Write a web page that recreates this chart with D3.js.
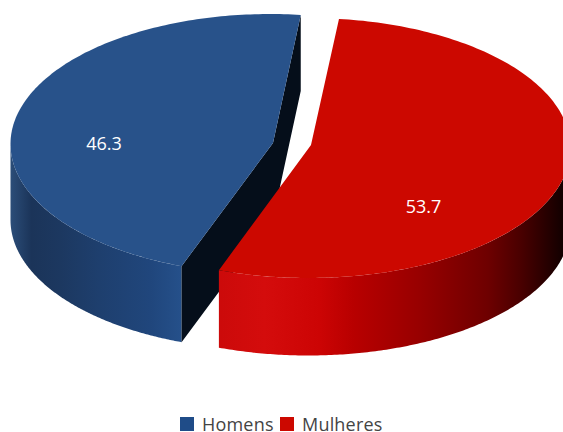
<!DOCTYPE html>
<html>
<head>
<meta charset="utf-8">
<script src="https://cdn.jsdelivr.net/npm/d3@7/dist/d3.min.js"></script>
<style>
html,body{margin:0;padding:0;background:#fff;overflow:hidden}
svg{display:block}
text{font-family:"Open Sans",sans-serif}
</style>
</head>
<body>
<svg id="c" width="563" height="432"></svg>
<script>
const categories = ["Homens", "Mulheres"];
const values = [46.3, 53.7];
const topColors = ["#28528a", "#cc0800"];
const swatchColors = ["#1f4c88", "#cc0800"];
const faceColor = "#050e1a";
const blueWallColors = ["#2b4d78", "#1b3459", "#1c3860", "#1e3f6e", "#20467c", "#25508a"];
const blueWallOffsets = [0, 0.12, 0.29, 0.52, 0.82, 1];
const redWallColors = ["#cc0a0a", "#d40c0c", "#cc0404", "#b80000", "#980000", "#6e0000", "#480000", "#120000"];
const redWallOffsets = [0, 0.13, 0.29, 0.39, 0.58, 0.78, 0.88, 1];

const rxs = [260, 262], rys = [130, 130], depths = [76, 77.5];
const centers = [[270.5, 144], [308.5, 148]];
const apexes = [[273, 143], [311, 145]];
const labelPos = [[104, 150], [423.5, 213]];
const wallX = [[11, 181], [220, 563]];

const svg = d3.select("#c");
const defs = svg.append("defs");
const rad = d => d * Math.PI / 180;

const pie = d3.pie().sort(null).startAngle(rad(200)).endAngle(rad(560));
const arcs = pie(values);

function pt(i, a, dy = 0) {
  const c = centers[i];
  return [c[0] + rxs[i] * Math.sin(a), c[1] - rys[i] * Math.cos(a) + dy];
}
const line = d3.line();
function sample(i, a0, a1, dy = 0) {
  return d3.range(0, 181).map(k => pt(i, a0 + (a1 - a0) * k / 180, dy));
}
function addGrad(id, colors, offsets, x0, x1) {
  const g = defs.append("linearGradient").attr("id", id)
    .attr("gradientUnits", "userSpaceOnUse")
    .attr("x1", x0).attr("x2", x1).attr("y1", 0).attr("y2", 0);
  colors.forEach((s, k) => g.append("stop").attr("offset", offsets[k]).attr("stop-color", s));
}
addGrad("wall0", blueWallColors, blueWallOffsets, wallX[0][0], wallX[0][1]);
addGrad("wall1", redWallColors, redWallOffsets, wallX[1][0], wallX[1][1]);

function drawSlice(i) {
  const d = arcs[i], ap = apexes[i], dz = depths[i];
  // visible outer wall: the part of the rim on the front half of the ellipse
  const lo = Math.max(d.startAngle, rad(i === 0 ? 180 : 450));
  const hi = Math.min(d.endAngle, rad(i === 0 ? 270 : 630));
  svg.append("path")
    .attr("d", line(sample(i, lo, hi).concat(sample(i, hi, lo, dz))) + "Z")
    .attr("fill", `url(#wall${i})`);

  // dark cut faces of the left slice
  if (i === 0) {
    const a = pt(i, d.startAngle), b = pt(i, d.endAngle);
    const face = [b, [b[0], b[1] + dz], [ap[0], ap[1] + dz], [a[0], a[1] + dz], a, ap];
    svg.append("path").attr("d", line(face) + "Z").attr("fill", faceColor);
  }
  // top face
  svg.append("path")
    .attr("d", line([ap].concat(sample(i, d.startAngle, d.endAngle))) + "Z")
    .attr("fill", topColors[i]);
}
drawSlice(0);
drawSlice(1);

// data labels
svg.selectAll("text.val").data(values).enter().append("text")
  .attr("class", "val")
  .attr("x", (d, i) => labelPos[i][0]).attr("y", (d, i) => labelPos[i][1])
  .attr("text-anchor", "middle").attr("fill", "#fff").attr("font-size", 18)
  .text(d => d.toFixed(1));

// legend
const legendSwatchX = [180, 280], legendTextX = [202, 302];
const lg = svg.selectAll("g.lg").data(categories).enter().append("g").attr("class", "lg");
lg.append("rect").attr("x", (d, i) => legendSwatchX[i]).attr("y", 417)
  .attr("width", 14).attr("height", 14).attr("fill", (d, i) => swatchColors[i]);
lg.append("text").attr("x", (d, i) => legendTextX[i]).attr("y", 431)
  .attr("font-size", 18).attr("fill", "#444").attr("letter-spacing", 0.2).text(d => d);
</script>
</body>
</html>
